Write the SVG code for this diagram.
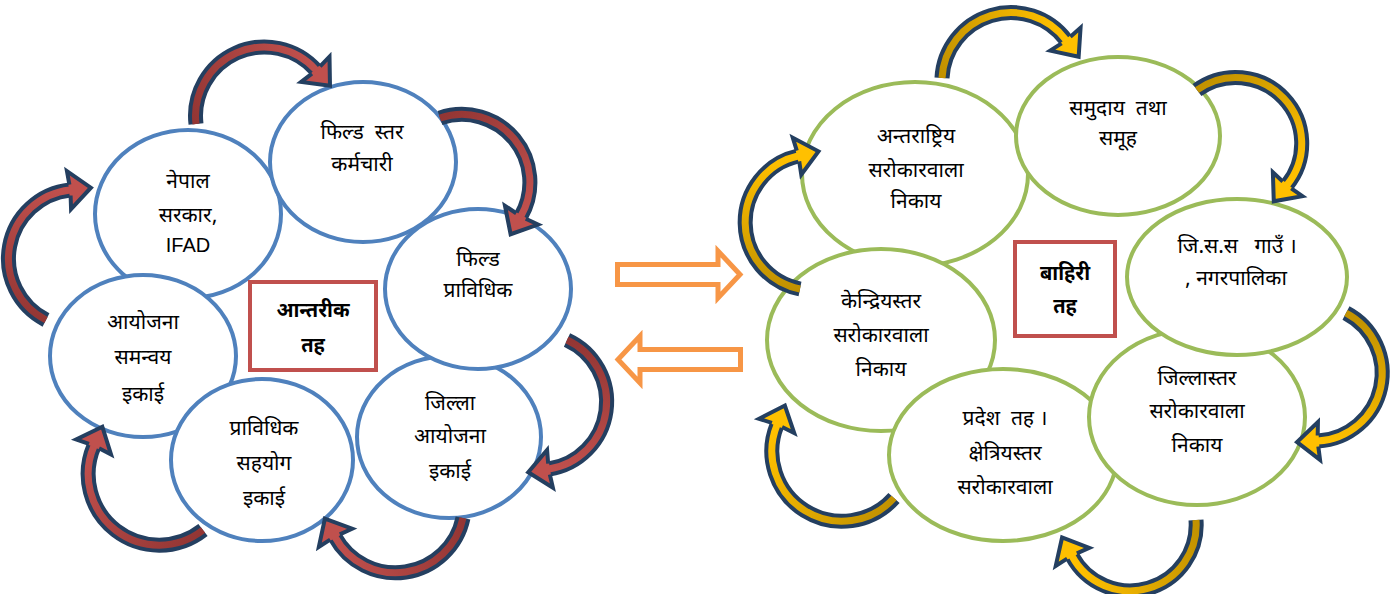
<svg xmlns="http://www.w3.org/2000/svg" width="1398" height="594" viewBox="0 0 1398 594">
<style>
.bl{fill:#fff;stroke:#4F81BD;stroke-width:4}
.gr{fill:#fff;stroke:#9BBB59;stroke-width:4}
.box{fill:#fff;stroke:#C0504D;stroke-width:4}
text{font-family:"Noto Sans Devanagari","Mangal","Lohit Devanagari","Noto Sans","Liberation Sans",sans-serif;font-size:21px;fill:#000;text-anchor:middle;white-space:pre}
.b{font-weight:bold;font-size:20px}
.lat{font-family:"Liberation Sans",Arial,sans-serif;font-size:20px}
.ob{fill:none;stroke:#243F60;stroke-width:15}
.ic{fill:none;stroke-width:7}
.or{fill:#fff;stroke:#F79646;stroke-width:5}
</style>
<defs>
<marker id="hr" markerUnits="userSpaceOnUse" orient="auto" overflow="visible" markerWidth="1" markerHeight="1" refX="0" refY="0">
<path d="M-1,-19 L21,0 L-1,19 Z" fill="#C0504D"/>
<path d="M0,-5.5 L-1,-19 L21,0 L-1,19 L0,5.5" fill="none" stroke="#243F60" stroke-width="4"/>
</marker>
<marker id="hy" markerUnits="userSpaceOnUse" orient="auto" overflow="visible" markerWidth="1" markerHeight="1" refX="0" refY="0">
<path d="M-1,-19 L21,0 L-1,19 Z" fill="#FFC000"/>
<path d="M0,-5.5 L-1,-19 L21,0 L-1,19 L0,5.5" fill="none" stroke="#243F60" stroke-width="4"/>
</marker>
<linearGradient id="gL1" gradientUnits="userSpaceOnUse" x1="196" y1="124" x2="316" y2="70"><stop offset="0" stop-color="#943634"/><stop offset="1" stop-color="#C0504D"/></linearGradient>
<linearGradient id="gL2" gradientUnits="userSpaceOnUse" x1="440" y1="118" x2="521" y2="216"><stop offset="0" stop-color="#943634"/><stop offset="1" stop-color="#C0504D"/></linearGradient>
<linearGradient id="gL3" gradientUnits="userSpaceOnUse" x1="567" y1="340" x2="549" y2="469"><stop offset="0" stop-color="#943634"/><stop offset="1" stop-color="#C0504D"/></linearGradient>
<linearGradient id="gL4" gradientUnits="userSpaceOnUse" x1="463" y1="518" x2="335" y2="537"><stop offset="0" stop-color="#943634"/><stop offset="1" stop-color="#C0504D"/></linearGradient>
<linearGradient id="gL5" gradientUnits="userSpaceOnUse" x1="203" y1="530" x2="94" y2="446"><stop offset="0" stop-color="#943634"/><stop offset="1" stop-color="#C0504D"/></linearGradient>
<linearGradient id="gL6" gradientUnits="userSpaceOnUse" x1="46" y1="320" x2="70" y2="190"><stop offset="0" stop-color="#943634"/><stop offset="1" stop-color="#C0504D"/></linearGradient>
<linearGradient id="gR1" gradientUnits="userSpaceOnUse" x1="942" y1="78" x2="1066" y2="40"><stop offset="0" stop-color="#C29200"/><stop offset="1" stop-color="#FFC000"/></linearGradient>
<linearGradient id="gR2" gradientUnits="userSpaceOnUse" x1="1197" y1="90" x2="1287" y2="185"><stop offset="0" stop-color="#C29200"/><stop offset="1" stop-color="#FFC000"/></linearGradient>
<linearGradient id="gR3" gradientUnits="userSpaceOnUse" x1="1346" y1="313" x2="1318" y2="441"><stop offset="0" stop-color="#C29200"/><stop offset="1" stop-color="#FFC000"/></linearGradient>
<linearGradient id="gR4" gradientUnits="userSpaceOnUse" x1="1196" y1="520" x2="1072" y2="556"><stop offset="0" stop-color="#C29200"/><stop offset="1" stop-color="#FFC000"/></linearGradient>
<linearGradient id="gR5" gradientUnits="userSpaceOnUse" x1="894" y1="498" x2="777" y2="425"><stop offset="0" stop-color="#C29200"/><stop offset="1" stop-color="#FFC000"/></linearGradient>
<linearGradient id="gR6" gradientUnits="userSpaceOnUse" x1="800" y1="289" x2="798" y2="156"><stop offset="0" stop-color="#C29200"/><stop offset="1" stop-color="#FFC000"/></linearGradient>
</defs>

<g id="n-nepal"><ellipse class="bl" cx="188" cy="214" rx="93" ry="84"/><text x="188" y="188">नेपाल</text><text x="188" y="222">सरकार,</text><text class="lat" x="188" y="252">IFAD</text></g>
<g id="n-fieldstaff"><ellipse class="bl" cx="363" cy="162" rx="93" ry="80"/><text x="362" y="139">फिल्ड  स्तर</text><text x="362" y="171">कर्मचारी</text></g>
<g id="n-jilla"><ellipse class="bl" cx="449" cy="437" rx="92" ry="81"/><text x="450" y="410">जिल्ला</text><text x="450" y="443">आयोजना</text><text x="450" y="478">इकाई</text></g>
<g id="n-fieldtech"><ellipse class="bl" cx="478" cy="289" rx="93" ry="80"/><text x="478" y="266">फिल्ड</text><text x="478" y="297">प्राविधिक</text></g>
<g id="n-ayojana"><ellipse class="bl" cx="143" cy="356" rx="93" ry="81"/><text x="143" y="329">आयोजना</text><text x="143" y="364">समन्वय</text><text x="143" y="401">इकाई</text></g>
<g id="n-sahayog"><ellipse class="bl" cx="262" cy="460" rx="91" ry="81"/><text x="264" y="435">प्राविधिक</text><text x="264" y="470">सहयोग</text><text x="264" y="505">इकाई</text></g>
<g id="n-inner"><rect class="box" x="250" y="282" width="126" height="88"/><text class="b" x="313" y="317">आन्तरीक</text><text class="b" x="313" y="352">तह</text></g>

<g id="n-intl"><ellipse class="gr" cx="915" cy="174" rx="113" ry="92"/><text x="916" y="143">अन्तराष्ट्रिय</text><text x="916" y="177">सरोकारवाला</text><text x="916" y="208">निकाय</text></g>
<g id="n-samudaya"><ellipse class="gr" cx="1118" cy="136" rx="102" ry="79"/><text x="1118" y="115">समुदाय  तथा</text><text x="1118" y="145">समूह</text></g>
<g id="n-kendra"><ellipse class="gr" cx="881" cy="340" rx="114" ry="91"/><text x="881" y="308">केन्द्रियस्तर</text><text x="881" y="342">सरोकारवाला</text><text x="881" y="376">निकाय</text></g>
<g id="n-pradesh"><ellipse class="gr" cx="1003" cy="455" rx="114" ry="86"/><text x="1005" y="425">प्रदेश  तह ।</text><text x="1005" y="460">क्षेत्रियस्तर</text><text x="1005" y="494">सरोकारवाला</text></g>
<g id="n-jillastar"><ellipse class="gr" cx="1197" cy="417" rx="108" ry="88"/><text x="1197" y="385">जिल्लास्तर</text><text x="1197" y="418">सरोकारवाला</text><text x="1197" y="452">निकाय</text></g>
<g id="n-jisas"><ellipse class="gr" cx="1237" cy="277" rx="110" ry="78"/><text x="1237" y="253">जि.स.स   गाउँ ।</text><text x="1236" y="285">, नगरपालिका</text></g>
<g id="n-outer"><rect class="box" x="1015" y="242" width="100" height="94"/><text class="b" x="1065" y="280">बाहिरी</text><text class="b" x="1065" y="313">तह</text></g>

<g id="connectors">
<path class="or" d="M617.5,264.5 H718 V251 L740,274.5 L718,298 V284.5 H617.5 Z"/>
<path class="or" d="M740.5,349.5 H640 V336 L618,359.5 L640,383 V369.5 H740.5 Z"/>

<path class="ob" d="M196,124 A69,69 0 0 1 316,70"/><path class="ic" stroke="url(#gL1)" marker-end="url(#hr)" d="M196,124 A69,69 0 0 1 316,70"/>
<path class="ob" d="M440,118 A68,68 0 0 1 521,216"/><path class="ic" stroke="url(#gL2)" marker-end="url(#hr)" d="M440,118 A68,68 0 0 1 521,216"/>
<path class="ob" d="M567,340 A68,68 0 0 1 549,469"/><path class="ic" stroke="url(#gL3)" marker-end="url(#hr)" d="M567,340 A68,68 0 0 1 549,469"/>
<path class="ob" d="M463,518 A69,69 0 0 1 335,537"/><path class="ic" stroke="url(#gL4)" marker-end="url(#hr)" d="M463,518 A69,69 0 0 1 335,537"/>
<path class="ob" d="M203,530 A71,71 0 0 1 94,446"/><path class="ic" stroke="url(#gL5)" marker-end="url(#hr)" d="M203,530 A71,71 0 0 1 94,446"/>
<path class="ob" d="M46,320 A69,69 0 0 1 70,190"/><path class="ic" stroke="url(#gL6)" marker-end="url(#hr)" d="M46,320 A69,69 0 0 1 70,190"/>

<path class="ob" d="M942,78 A69,69 0 0 1 1066,40"/><path class="ic" stroke="url(#gR1)" marker-end="url(#hy)" d="M942,78 A69,69 0 0 1 1066,40"/>
<path class="ob" d="M1197,90 A66,66 0 0 1 1287,185"/><path class="ic" stroke="url(#gR2)" marker-end="url(#hy)" d="M1197,90 A66,66 0 0 1 1287,185"/>
<path class="ob" d="M1346,313 A68,68 0 0 1 1318,441"/><path class="ic" stroke="url(#gR3)" marker-end="url(#hy)" d="M1346,313 A68,68 0 0 1 1318,441"/>
<path class="ob" d="M1196,520 A66,66 0 0 1 1072,556"/><path class="ic" stroke="url(#gR4)" marker-end="url(#hy)" d="M1196,520 A66,66 0 0 1 1072,556"/>
<path class="ob" d="M894,498 A70,70 0 0 1 777,425"/><path class="ic" stroke="url(#gR5)" marker-end="url(#hy)" d="M894,498 A70,70 0 0 1 777,425"/>
<path class="ob" d="M800,289 A68,68 0 0 1 798,156"/><path class="ic" stroke="url(#gR6)" marker-end="url(#hy)" d="M800,289 A68,68 0 0 1 798,156"/>
</g>
</svg>
